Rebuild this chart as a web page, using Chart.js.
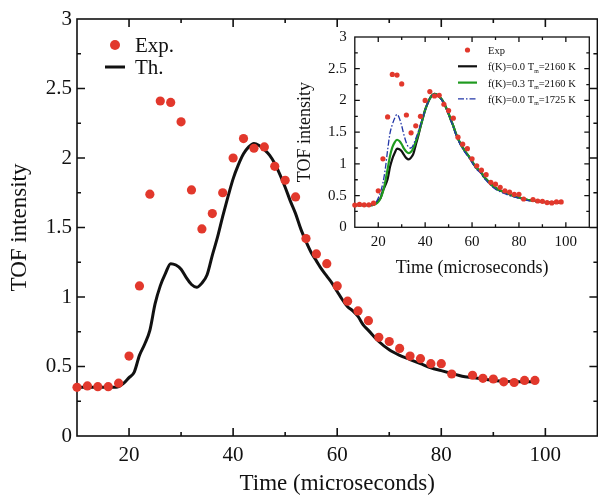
<!DOCTYPE html>
<html>
<head>
<meta charset="utf-8">
<script src="https://cdn.jsdelivr.net/npm/chart.js@4.4.1/dist/chart.umd.min.js"></script>
<style>
  html, body { margin: 0; padding: 0; background: #fff; overflow: hidden; }
  #main { position: absolute; left: 0; top: 0; width: 602px; height: 495px; }
  #inset { position: absolute; left: 290px; top: 20px; width: 308px; height: 270px; }
</style>
</head>
<body>
<div id="main"><canvas id="tofChart"></canvas></div>
<div id="inset"><canvas id="insetChart"></canvas></div>
<script>
// measured TOF spectrum
const expTime = [10, 12, 14, 16, 18, 20, 22, 24, 26, 28, 30, 32, 34, 36, 38, 40, 42, 44, 46, 48, 50,
  52, 54, 56, 58, 60, 62, 64, 66, 68, 70, 72, 74, 76, 78, 80, 82, 86, 88, 90, 92, 94, 96, 98];
const expIntensity = [0.35, 0.36, 0.355, 0.355, 0.38, 0.575, 1.08, 1.74, 2.41, 2.40, 2.26, 1.77, 1.49, 1.60, 1.75, 2.00, 2.14, 2.07, 2.08, 1.94, 1.84,
  1.72, 1.42, 1.31, 1.24, 1.08, 0.97, 0.90, 0.83, 0.71, 0.68, 0.63, 0.575, 0.556, 0.52, 0.52, 0.446, 0.437, 0.415, 0.41, 0.39, 0.385, 0.40, 0.40];

// calculated curves (common time grid)
const thTime = [10, 12, 14, 16, 17.5, 19, 20, 21, 22, 23, 24, 25, 26, 27, 28, 29, 30, 31, 32, 33, 34, 35, 36, 37, 38, 39,
  40, 41, 42, 43, 44, 45, 46, 47, 48, 49, 50, 51, 52, 53, 54, 55, 56, 57, 58, 59, 60, 61, 62, 63, 64, 65, 66,
  68, 70, 72, 74, 76, 78, 80, 82, 84, 86, 88, 90, 92, 94, 96, 98];
const thK00T2160 = [0.35, 0.35, 0.35, 0.35, 0.35, 0.38, 0.42, 0.46, 0.58, 0.66, 0.76, 0.95, 1.08, 1.17, 1.24, 1.23, 1.20, 1.14, 1.09, 1.07, 1.10, 1.16, 1.30, 1.43, 1.58, 1.72,
  1.85, 1.95, 2.03, 2.08, 2.105, 2.09, 2.06, 2.02, 1.96, 1.88, 1.79, 1.69, 1.60, 1.49, 1.40, 1.32, 1.26, 1.20, 1.15, 1.10, 1.04, 0.98, 0.93, 0.90, 0.86, 0.80, 0.76,
  0.68, 0.62, 0.58, 0.55, 0.52, 0.49, 0.47, 0.45, 0.43, 0.42, 0.41, 0.40, 0.395, 0.39, 0.39, 0.39];
const thK03T2160 = [0.35, 0.35, 0.35, 0.35, 0.35, 0.37, 0.40, 0.46, 0.56, 0.72, 0.92, 1.12, 1.26, 1.34, 1.38, 1.36, 1.31, 1.24, 1.19, 1.17, 1.19, 1.25, 1.35, 1.46, 1.59, 1.72,
  1.85, 1.95, 2.03, 2.08, 2.105, 2.09, 2.06, 2.02, 1.96, 1.88, 1.79, 1.69, 1.60, 1.49, 1.40, 1.32, 1.26, 1.20, 1.15, 1.10, 1.04, 0.98, 0.93, 0.90, 0.86, 0.80, 0.76,
  0.68, 0.62, 0.58, 0.55, 0.52, 0.49, 0.47, 0.45, 0.43, 0.42, 0.41, 0.40, 0.395, 0.39, 0.39, 0.39];
const thK00T1725 = [0.35, 0.35, 0.35, 0.35, 0.35, 0.39, 0.46, 0.56, 0.70, 0.92, 1.22, 1.48, 1.62, 1.72, 1.78, 1.72, 1.60, 1.45, 1.33, 1.26, 1.25, 1.30, 1.40, 1.50, 1.62, 1.73,
  1.85, 1.95, 2.03, 2.08, 2.10, 2.08, 2.05, 2.01, 1.95, 1.87, 1.78, 1.68, 1.58, 1.47, 1.38, 1.30, 1.24, 1.18, 1.13, 1.08, 1.02, 0.96, 0.91, 0.88, 0.84, 0.78, 0.74,
  0.66, 0.60, 0.56, 0.53, 0.50, 0.48, 0.46, 0.44, 0.42, 0.41, 0.40, 0.395, 0.39, 0.385, 0.385, 0.385];

const xTickValues = [20, 40, 60, 80, 100];
const yTickValues = [0, 0.5, 1, 1.5, 2, 2.5, 3];

const serif = "'Liberation Serif', 'Times New Roman', serif";
const ink = '#111';
const red = '#e2382c';

const pts = (xs, ys) => xs.map((x, i) => ({ x: x, y: ys[i] }));

// box around the plot area with inward major/minor ticks on all sides
const frameTicks = {
  id: 'frameTicks',
  beforeDatasetsDraw(chart, args, o) {
    const { ctx, chartArea: a, scales: { x, y } } = chart;
    ctx.save();
    ctx.strokeStyle = ink;
    ctx.lineWidth = o.lineWidth;
    ctx.strokeRect(a.left, a.top, a.right - a.left, a.bottom - a.top);
    const isMajor = (v, step) => Math.abs(v / step - Math.round(v / step)) < 1e-6;
    ctx.beginPath();
    for (let v = Math.ceil(x.min / o.xMinor) * o.xMinor; v <= x.max + 1e-9; v += o.xMinor) {
      if (v <= x.min + 1e-9 || v >= x.max - 1e-9) continue;
      const px = x.getPixelForValue(v);
      const len = isMajor(v, o.xMajor) ? o.major : o.minor;
      ctx.moveTo(px, a.bottom); ctx.lineTo(px, a.bottom - len);
      ctx.moveTo(px, a.top); ctx.lineTo(px, a.top + len);
    }
    for (let v = Math.ceil(y.min / o.yMinor) * o.yMinor; v <= y.max + 1e-9; v += o.yMinor) {
      if (v <= y.min + 1e-9 || v >= y.max - 1e-9) continue;
      const py = y.getPixelForValue(v);
      const len = isMajor(v, o.yMajor) ? o.major : o.minor;
      ctx.moveTo(a.left, py); ctx.lineTo(a.left + len, py);
      ctx.moveTo(a.right, py); ctx.lineTo(a.right - len, py);
    }
    ctx.stroke();
    ctx.restore();
  }
};

// legend drawn inside the plot; "T_m" style labels get a subscript
const plotLegend = {
  id: 'plotLegend',
  afterDraw(chart, args, o) {
    const ctx = chart.ctx;
    ctx.save();
    chart.data.datasets.forEach((ds, i) => {
      const cy = o.top + i * o.rowGap;
      if (ds.showLine === false) {
        ctx.beginPath();
        ctx.fillStyle = ds.backgroundColor;
        ctx.arc((o.lineStart + o.lineEnd) / 2, cy, o.dot, 0, Math.PI * 2);
        ctx.fill();
      } else {
        ctx.beginPath();
        ctx.setLineDash(ds.borderDash || []);
        ctx.strokeStyle = ds.borderColor;
        ctx.lineWidth = ds.borderWidth;
        ctx.moveTo(o.lineStart, cy);
        ctx.lineTo(o.lineEnd, cy);
        ctx.stroke();
        ctx.setLineDash([]);
      }
      ctx.fillStyle = ink;
      ctx.textBaseline = 'alphabetic';
      let tx = o.textX;
      ds.label.split(/_(.)/).forEach((part, k) => {
        const sub = k % 2 === 1;
        ctx.font = (sub ? o.size * 0.55 : o.size) + 'px ' + serif;
        ctx.fillText(part, tx, cy + o.baseShift + (sub ? o.size * 0.22 : 0));
        tx += ctx.measureText(part).width;
      });
    });
    ctx.restore();
  }
};

function axes(cfg) {
  return {
    x: {
      type: 'linear', min: 10, max: 110,
      afterBuildTicks: s => { s.ticks = xTickValues.map(v => ({ value: v })); },
      afterFit: s => { s.height = cfg.xHeight; },
      grid: { display: false, drawTicks: false },
      border: { display: false },
      ticks: { font: { family: serif, size: cfg.tickSize }, color: ink, padding: cfg.xPad, maxRotation: 0, autoSkip: false, callback: v => String(v) },
      title: { display: true, text: 'Time (microseconds)', color: ink, font: { family: serif, size: cfg.titleSize, lineHeight: 1 }, padding: { top: 0, bottom: cfg.xTitlePad } }
    },
    y: {
      type: 'linear', min: 0, max: 3,
      afterBuildTicks: s => { s.ticks = yTickValues.map(v => ({ value: v })); },
      afterFit: s => { s.width = cfg.yWidth; },
      grid: { display: false, drawTicks: false },
      border: { display: false },
      ticks: { font: { family: serif, size: cfg.tickSize }, color: ink, padding: cfg.yPad, autoSkip: false, callback: v => String(v) },
      title: { display: true, text: 'TOF intensity', color: ink, font: { family: serif, size: cfg.titleSize, lineHeight: 1 }, padding: { top: cfg.yTitlePad, bottom: 0 } }
    }
  };
}

new Chart(document.getElementById('tofChart'), {
  type: 'scatter',
  data: {
    datasets: [
      { label: 'Exp.', data: pts(expTime, expIntensity), showLine: false, pointRadius: 4.6, pointBorderWidth: 0,
        backgroundColor: red, borderColor: red, order: 0, clip: false },
      { label: 'Th.', data: pts(thTime, thK00T2160), showLine: true, pointRadius: 0, borderColor: ink, borderWidth: 3,
        cubicInterpolationMode: 'monotone', order: 1, clip: false }
    ]
  },
  options: {
    responsive: true, maintainAspectRatio: false, animation: false,
    layout: { padding: { top: 19, right: 2.5, left: 0, bottom: 0 } },
    scales: axes({ xHeight: 59, yWidth: 77, tickSize: 21, titleSize: 23, xPad: 7, yPad: 5, xTitlePad: 0, yTitlePad: 8.5 }),
    plugins: {
      legend: { display: false },
      tooltip: { enabled: false },
      frameTicks: { lineWidth: 1.6, xMajor: 20, xMinor: 10, yMajor: 0.5, yMinor: 0.25, major: 8, minor: 4 },
      plotLegend: { top: 45, rowGap: 22, lineStart: 105, lineEnd: 125, textX: 135, baseShift: 6.5, size: 21, dot: 5 }
    }
  },
  plugins: [frameTicks, plotLegend]
});

new Chart(document.getElementById('insetChart'), {
  type: 'scatter',
  data: {
    datasets: [
      { label: 'Exp', data: pts(expTime, expIntensity), showLine: false, pointRadius: 2.6, pointBorderWidth: 0,
        backgroundColor: red, borderColor: red, order: 0, clip: false },
      { label: 'f(K)=0.0 T_m=2160 K', data: pts(thTime, thK00T2160), showLine: true, pointRadius: 0, borderColor: ink, borderWidth: 2.2,
        cubicInterpolationMode: 'monotone', order: 3 },
      { label: 'f(K)=0.3 T_m=2160 K', data: pts(thTime, thK03T2160), showLine: true, pointRadius: 0, borderColor: '#1f9a1f', borderWidth: 2.2,
        cubicInterpolationMode: 'monotone', order: 2 },
      { label: 'f(K)=0.0 T_m=1725 K', data: pts(thTime, thK00T1725), showLine: true, pointRadius: 0, borderColor: '#2236a8', borderWidth: 1.3,
        borderDash: [6, 2, 1.5, 2], cubicInterpolationMode: 'monotone', order: 1 }
    ]
  },
  options: {
    responsive: true, maintainAspectRatio: false, animation: false,
    layout: { padding: { top: 12.3, right: 8.7, left: 0, bottom: 0 } },
    scales: axes({ xHeight: 62.7, yWidth: 64.8, tickSize: 15, titleSize: 18, xPad: 6, yPad: 8, xTitlePad: 13, yTitlePad: 6 }),
    plugins: {
      legend: { display: false },
      tooltip: { enabled: false },
      frameTicks: { lineWidth: 1.3, xMajor: 20, xMinor: 10, yMajor: 0.5, yMinor: 0.25, major: 5, minor: 3 },
      plotLegend: { top: 30, rowGap: 16.3, lineStart: 168, lineEnd: 187, textX: 198, baseShift: 4, size: 10.5, dot: 2.6 }
    }
  },
  plugins: [frameTicks, plotLegend]
});
</script>
</body>
</html>
